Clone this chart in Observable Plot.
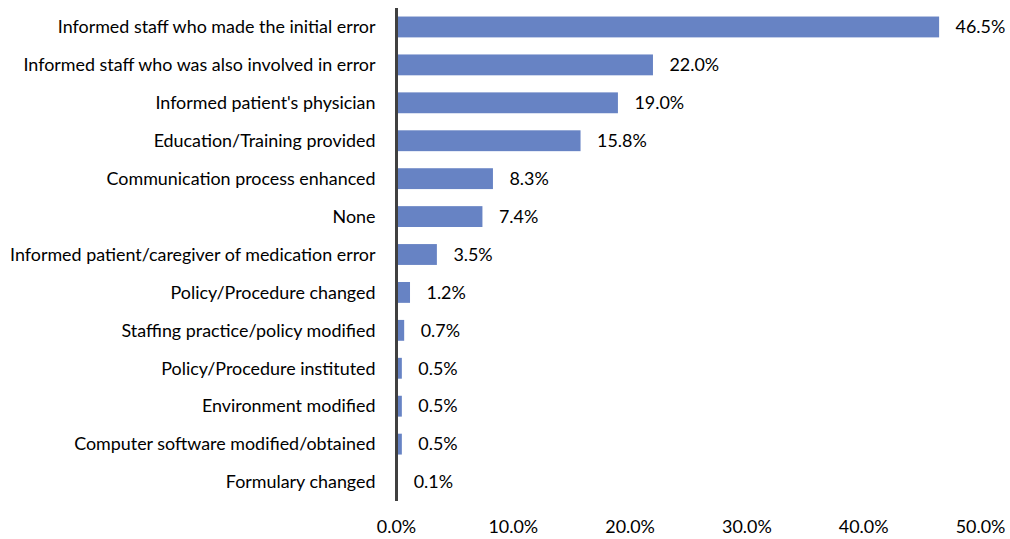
<!DOCTYPE html>
<html>
<head>
<meta charset="utf-8">
<script src="https://cdn.jsdelivr.net/npm/d3@7"></script>
<script src="https://cdn.jsdelivr.net/npm/@observablehq/plot@0.6"></script>
<style>
  html, body { margin: 0; padding: 0; background: #fff; }
  #chart svg { display: block; }
</style>
</head>
<body>
<div id="chart"></div>
<script>
const categories = [
  "Informed staff who made the initial error",
  "Informed staff who was also involved in error",
  "Informed patient's physician",
  "Education/Training provided",
  "Communication process enhanced",
  "None",
  "Informed patient/caregiver of medication error",
  "Policy/Procedure changed",
  "Staffing practice/policy modified",
  "Policy/Procedure instituted",
  "Environment modified",
  "Computer software modified/obtained",
  "Formulary changed"
];
const values = [46.5, 22.0, 19.0, 15.8, 8.3, 7.4, 3.5, 1.2, 0.7, 0.5, 0.5, 0.5, 0.1];
const xTicks = [0, 10, 20, 30, 40, 50];

const data = categories.map((c, i) => ({category: c, value: values[i]}));
const fs = 17.9;

const chart = Plot.plot({
  width: 1010,
  height: 539,
  marginLeft: 396,
  marginRight: 30,
  marginTop: 8,
  marginBottom: 38,
  style: {fontFamily: "Lato, sans-serif", fontSize: fs + "px", color: "#000", background: "#fff"},
  x: {domain: [0, 50], ticks: xTicks, tickFormat: d => d.toFixed(1) + "%"},
  y: {domain: categories, paddingInner: 0.45, paddingOuter: 0.225, round: false},
  marks: [
    Plot.barX(data, {y: "category", x: "value", fill: "#6783c4"}),
    Plot.text(data, {y: "category", x: "value", text: d => d.value.toFixed(1) + "%", dx: 16, textAnchor: "start", fill: "#000", fontSize: fs}),
    Plot.ruleX([0], {stroke: "#404040", strokeWidth: 3}),
    Plot.axisX({ticks: xTicks, tickFormat: d => d.toFixed(1) + "%", tickSize: 0, tickPadding: 19, fontSize: fs, label: null}),
    Plot.axisY({tickSize: 0, tickPadding: 21, fontSize: fs, label: null})
  ]
});
document.getElementById("chart").appendChild(chart);
</script>
</body>
</html>
